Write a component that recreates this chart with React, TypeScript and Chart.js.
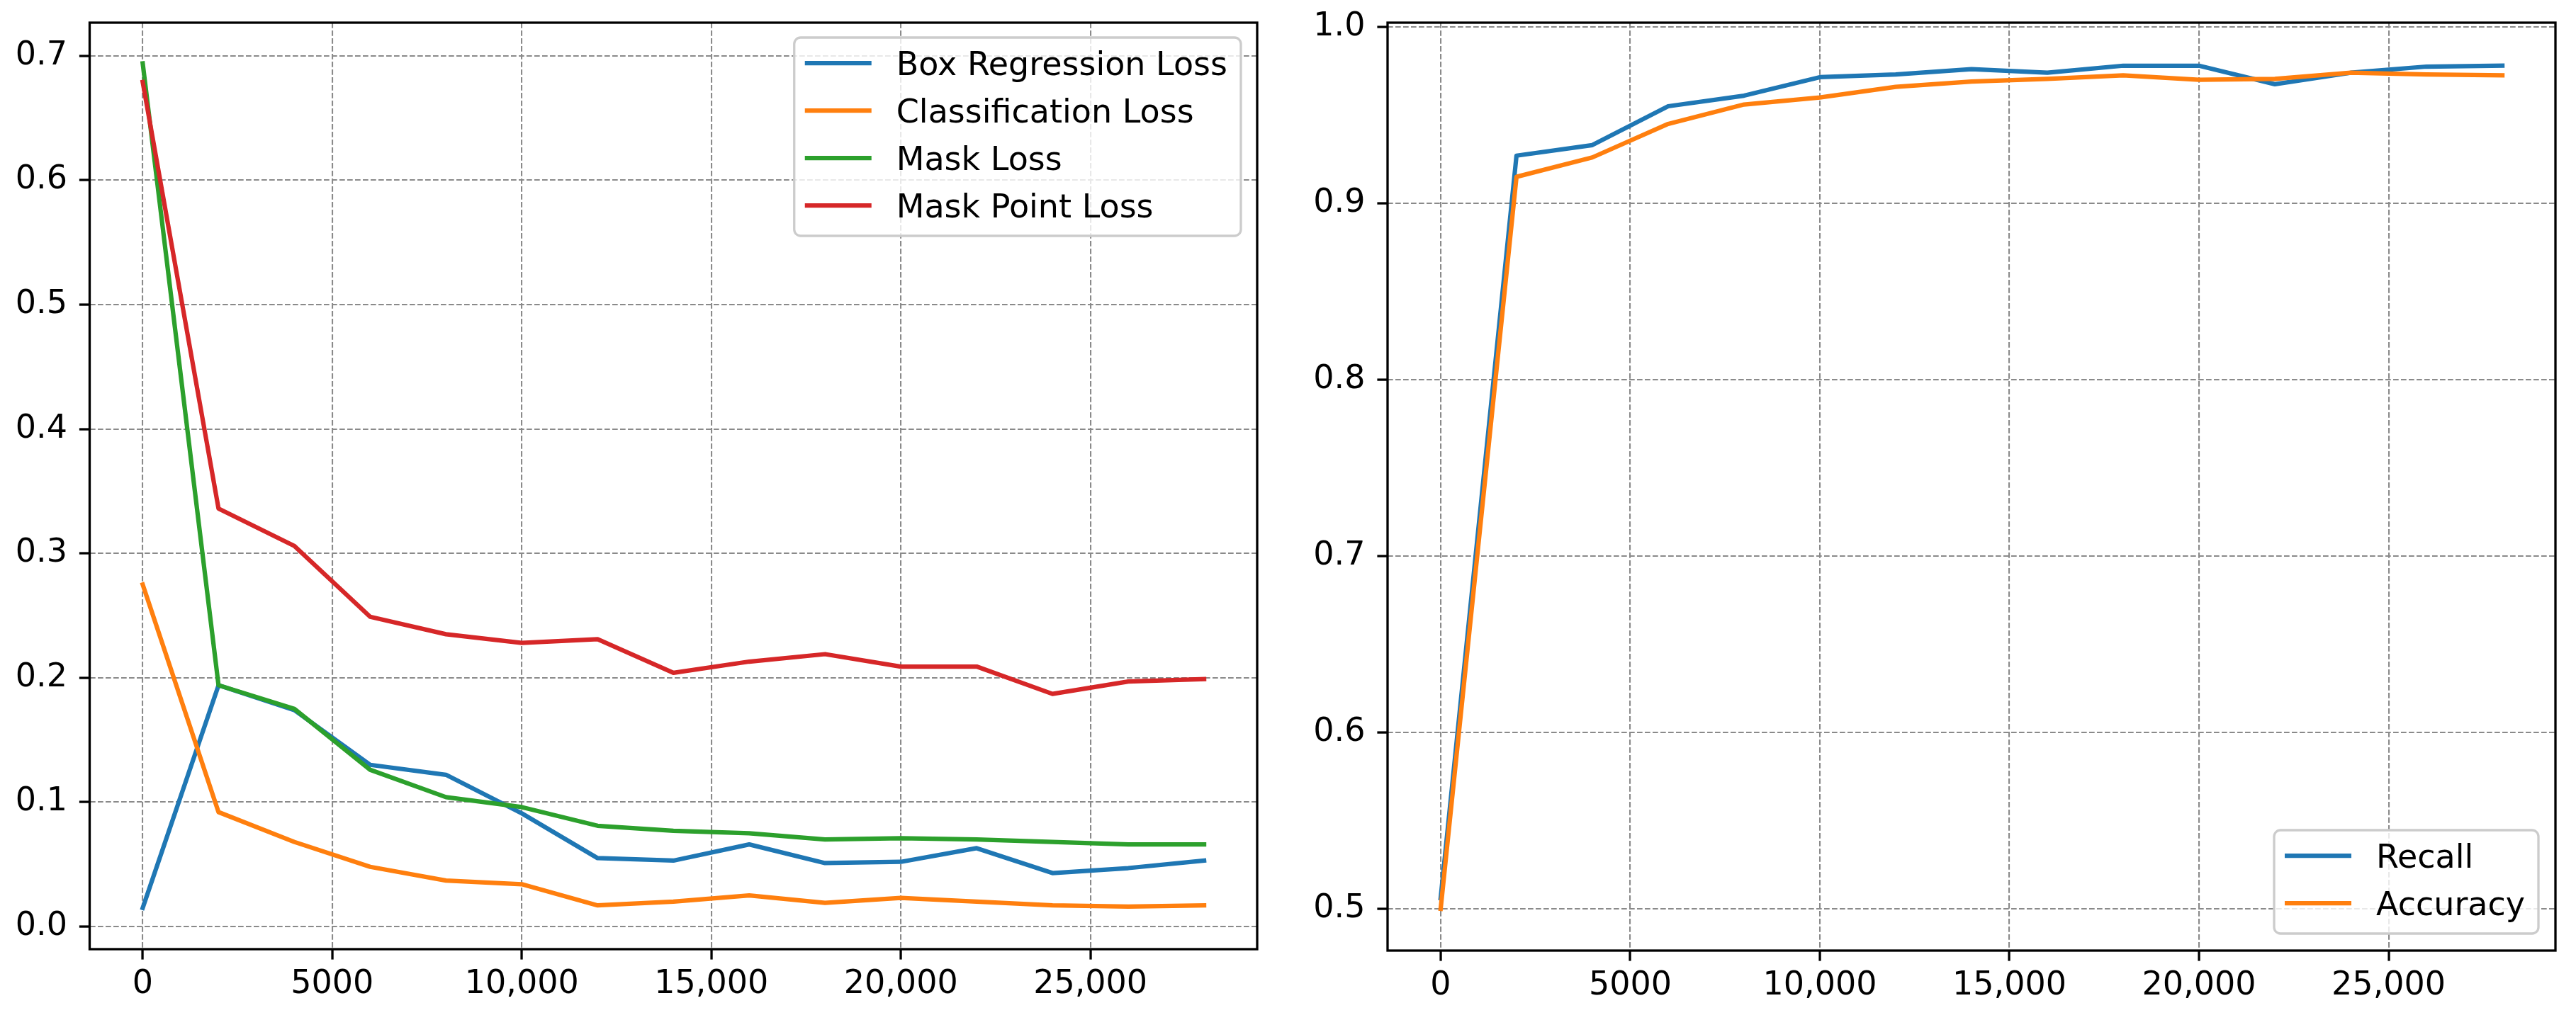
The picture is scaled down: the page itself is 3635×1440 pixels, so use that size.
import React, { useEffect, useRef } from 'react';
import { Chart, registerables } from 'chart.js';

Chart.register(...registerables);

// ---------- data ----------
const steps = [0, 2000, 4000, 6000, 8000, 10000, 12000, 14000, 16000, 18000, 20000, 22000, 24000, 26000, 28000];

const boxRegressionLoss = [0.015, 0.194, 0.174, 0.130, 0.122, 0.091, 0.055, 0.053, 0.066, 0.051, 0.052, 0.063, 0.043, 0.047, 0.053];
const classificationLoss = [0.275, 0.092, 0.068, 0.048, 0.037, 0.034, 0.017, 0.020, 0.025, 0.019, 0.023, 0.020, 0.017, 0.016, 0.017];
const maskLoss = [0.694, 0.194, 0.175, 0.126, 0.104, 0.096, 0.081, 0.077, 0.075, 0.070, 0.071, 0.070, 0.068, 0.066, 0.066];
const maskPointLoss = [0.679, 0.336, 0.306, 0.249, 0.235, 0.228, 0.231, 0.204, 0.213, 0.219, 0.209, 0.209, 0.187, 0.197, 0.199];

const recall = [0.506, 0.927, 0.933, 0.955, 0.961, 0.9715, 0.973, 0.976, 0.974, 0.978, 0.978, 0.9675, 0.974, 0.9775, 0.978];
const accuracy = [0.500, 0.915, 0.926, 0.945, 0.956, 0.960, 0.966, 0.969, 0.9705, 0.9725, 0.970, 0.9705, 0.974, 0.973, 0.9725];

const lossLabels = ['Box Regression Loss', 'Classification Loss', 'Mask Loss', 'Mask Point Loss'];
const metricLabels = ['Recall', 'Accuracy'];

const xTickValues = [0, 5000, 10000, 15000, 20000, 25000];
const xTickLabels = ['0', '5000', '10,000', '15,000', '20,000', '25,000'];
const lossTickValues = [0, 0.1, 0.2, 0.3, 0.4, 0.5, 0.6, 0.7];
const lossTickLabels = ['0.0', '0.1', '0.2', '0.3', '0.4', '0.5', '0.6', '0.7'];
const metricTickValues = [0.5, 0.6, 0.7, 0.8, 0.9, 1.0];
const metricTickLabels = ['0.5', '0.6', '0.7', '0.8', '0.9', '1.0'];

// ---------- styles ----------
const COLORS = ['#1f77b4', '#ff7f0e', '#2ca02c', '#d62728'];
const FONT = '"DejaVu Sans", "Liberation Sans", sans-serif';
const FONT_SIZE = 46;
const LINE_W = 6.25;
const SPINE_W = 3.3;
const TICK_LEN = 14.6;
const GRID_COLOR = '#8a8a8a';
const GRID_W = 2.1;
const GRID_DASH = [7.7, 3.3];

const W = 3635;
const H = 1440;

const framePlugin = {
  id: 'mplFrame',
  afterDraw(chart: any) {
    const { ctx, chartArea } = chart;
    ctx.save();
    ctx.strokeStyle = '#000';
    ctx.lineWidth = SPINE_W;
    ctx.setLineDash([]);
    ctx.strokeRect(chartArea.left, chartArea.top, chartArea.right - chartArea.left, chartArea.bottom - chartArea.top);
    ctx.restore();
  },
};

const legendPlugin = {
  id: 'mplLegend',
  afterDraw(chart: any, _args: any, opts: any) {
    const { ctx, chartArea } = chart;
    const ds = chart.data.datasets;
    ctx.save();
    ctx.font = `${FONT_SIZE}px ${FONT}`;
    const textW = Math.max(...ds.map((d: any) => ctx.measureText(d.label).width));
    const padL = 15, handle = 94, gap = 35, padR = 19, rowH = 67, firstRow = 36, lastGap = 43;
    const boxW = padL + handle + gap + textW + padR;
    const boxH = firstRow + (ds.length - 1) * rowH + lastGap;
    const right = chartArea.right - opts.dx;
    const left = right - boxW;
    const top = opts.corner === 'upper right' ? chartArea.top + opts.dy : chartArea.bottom - opts.dy - boxH;
    const r = 9;
    ctx.beginPath();
    ctx.moveTo(left + r, top);
    ctx.lineTo(left + boxW - r, top);
    ctx.arcTo(left + boxW, top, left + boxW, top + r, r);
    ctx.lineTo(left + boxW, top + boxH - r);
    ctx.arcTo(left + boxW, top + boxH, left + boxW - r, top + boxH, r);
    ctx.lineTo(left + r, top + boxH);
    ctx.arcTo(left, top + boxH, left, top + boxH - r, r);
    ctx.lineTo(left, top + r);
    ctx.arcTo(left, top, left + r, top, r);
    ctx.closePath();
    ctx.fillStyle = 'rgba(255,255,255,0.8)';
    ctx.fill();
    ctx.strokeStyle = '#cccccc';
    ctx.lineWidth = 3.3;
    ctx.stroke();
    ds.forEach((d: any, i: number) => {
      const cy = top + firstRow + i * rowH;
      ctx.beginPath();
      ctx.strokeStyle = d.borderColor;
      ctx.lineWidth = LINE_W;
      ctx.lineCap = 'butt';
      ctx.moveTo(left + padL, cy);
      ctx.lineTo(left + padL + handle, cy);
      ctx.stroke();
      ctx.fillStyle = '#000';
      ctx.textAlign = 'left';
      ctx.textBaseline = 'alphabetic';
      ctx.fillText(d.label, left + padL + handle + gap, cy + 0.729 * FONT_SIZE / 2);
    });
    ctx.restore();
  },
};

function makeDatasets(labels: string[], series: number[][]) {
  return labels.map((label, i) => ({
    label,
    data: steps.map((s, j) => ({ x: s, y: series[i][j] })),
    borderColor: COLORS[i],
    backgroundColor: COLORS[i],
    borderWidth: LINE_W,
    pointRadius: 0,
    pointHoverRadius: 0,
    tension: 0,
    fill: false,
    borderJoinStyle: 'round',
    borderCapStyle: 'square',
    order: labels.length - i, // later series drawn on top, like matplotlib
  }));
}

function axisCommon() {
  return {
    grid: {
      color: GRID_COLOR,
      lineWidth: GRID_W,
      drawTicks: true,
      tickLength: TICK_LEN,
      tickColor: '#000',
      tickWidth: SPINE_W,
      tickBorderDash: [],
    },
    border: { display: false, dash: GRID_DASH },
  };
}

function buildConfig(cfg: any) {
  const c = axisCommon();
  return {
    type: 'line',
    data: { datasets: makeDatasets(cfg.labels, cfg.series) },
    plugins: [framePlugin, legendPlugin],
    options: {
      animation: false,
      responsive: false,
      devicePixelRatio: 1,
      events: [],
      layout: { padding: cfg.padding },
      plugins: {
        legend: { display: false },
        tooltip: { enabled: false },
        mplLegend: cfg.legend,
      },
      scales: {
        x: {
          type: 'linear',
          bounds: 'data',
          min: -1400,
          max: 29400,
          afterBuildTicks: (s: any) => { s.ticks = xTickValues.map((v) => ({ value: v })); },
          afterFit: (s: any) => { s.height = cfg.xAxisHeight; s.paddingLeft = 0; s.paddingRight = 0; s.paddingTop = 0; s.paddingBottom = 0; },
          ticks: {
            autoSkip: false,
            maxRotation: 0,
            minRotation: 0,
            padding: 8,
            color: '#000',
            font: { family: FONT, size: FONT_SIZE },
            callback: (v: number) => xTickLabels[xTickValues.indexOf(v)] ?? '',
          },
          ...c,
        },
        y: {
          type: 'linear',
          bounds: 'data',
          min: cfg.yMin,
          max: cfg.yMax,
          afterBuildTicks: (s: any) => { s.ticks = cfg.yTicks.map((v: number) => ({ value: v })); },
          afterFit: (s: any) => { s.width = cfg.yAxisWidth; s.paddingLeft = 0; s.paddingRight = 0; s.paddingTop = 0; s.paddingBottom = 0; },
          ticks: {
            autoSkip: false,
            padding: 17,
            color: '#000',
            font: { family: FONT, size: FONT_SIZE },
            callback: (v: number) => {
              const i = cfg.yTicks.findIndex((t: number) => Math.abs(t - v) < 1e-9);
              return i >= 0 ? cfg.yTickLabels[i] : '';
            },
          },
          ...c,
        },
      },
    },
  };
}

function ChartCanvas(props: { left: number; width: number; config: any }) {
  const ref = useRef<HTMLCanvasElement | null>(null);
  useEffect(() => {
    if (!ref.current) return;
    const chart = new Chart(ref.current, props.config);
    return () => chart.destroy();
  }, []);
  return (
    <canvas
      ref={ref}
      width={props.width}
      height={H}
      style={{ position: 'absolute', left: props.left, top: 0, width: props.width, height: H, display: 'block' }}
    />
  );
}

export default function App() {
  const leftConfig = buildConfig({
    labels: lossLabels,
    series: [boxRegressionLoss, classificationLoss, maskLoss, maskPointLoss],
    padding: { top: 32, right: 43, left: 0, bottom: 0 },
    yAxisWidth: 126.5,
    xAxisHeight: 100,
    yMin: -0.0182,
    yMax: 0.7267,
    yTicks: lossTickValues,
    yTickLabels: lossTickLabels,
    legend: { corner: 'upper right', dx: 23, dy: 21 },
  });
  const rightConfig = buildConfig({
    labels: metricLabels,
    series: [recall, accuracy],
    padding: { top: 32, right: 29, left: 0, bottom: 0 },
    yAxisWidth: 141,
    xAxisHeight: 98,
    yMin: 0.4763,
    yMax: 1.0024,
    yTicks: metricTickValues,
    yTickLabels: metricTickLabels,
    legend: { corner: 'lower right', dx: 24, dy: 24 },
  });
  return (
    <div style={{ position: 'absolute', left: 0, top: 0, width: W, height: H, background: '#fff', overflow: 'hidden' }}>
      <ChartCanvas left={0} width={1817} config={leftConfig} />
      <ChartCanvas left={1817} width={1818} config={rightConfig} />
    </div>
  );
}
